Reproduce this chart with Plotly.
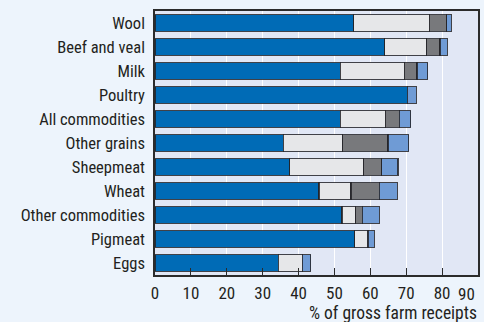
import plotly.graph_objects as go

# Commodities, top to bottom
commodities = ["Wool", "Beef and veal", "Milk", "Poultry", "All commodities",
               "Other grains", "Sheepmeat", "Wheat", "Other commodities",
               "Pigmeat", "Eggs"]

# Stacked components (% of gross farm receipts)
seg1 = [55.4, 64.0, 51.6, 70.3, 51.6, 35.7, 37.5, 45.7, 52.1, 55.6, 34.3]
seg2 = [21.0, 11.7, 17.9, 0.0, 12.6, 16.6, 20.6, 8.9, 3.8, 3.6, 6.7]
seg3 = [4.9, 3.7, 3.5, 0.0, 3.9, 12.6, 5.1, 7.9, 1.9, 0.2, 0.0]
seg4 = [1.3, 2.1, 3.0, 2.5, 3.1, 5.8, 4.5, 5.0, 4.7, 1.7, 2.4]

x_ticks = [0, 10, 20, 30, 40, 50, 60, 70, 80, 90]

colors = ["#006BB6", "#E6E7E9", "#78797C", "#6F9BD5"]
font_family = "Liberation Sans Narrow, Arial Narrow, Roboto Condensed, Liberation Sans, sans-serif"

fig = go.Figure()
for vals, col in zip([seg1, seg2, seg3, seg4], colors):
    fig.add_trace(go.Bar(
        y=commodities, x=vals, orientation="h",
        marker=dict(color=col, line=dict(color="rgba(35,35,40,0.85)", width=1.2)),
        showlegend=False,
    ))

# the last tick label sits at the right edge, so it is drawn as an annotation
# nudged inwards instead of letting the axis drop it
tick_text = [str(v) for v in x_ticks[:-1]] + [""]

fig.update_layout(
    barmode="stack",
    bargap=0.31,
    width=484, height=322,
    margin=dict(l=155, r=4, t=11, b=47),
    paper_bgcolor="#EDF4FC",
    plot_bgcolor="#E1E7F5",
    font=dict(family=font_family, size=16.5, color="#231F20"),
)
fig.update_xaxes(
    range=[0, 90], tickvals=x_ticks, ticktext=tick_text,
    showgrid=True, gridcolor="#FFFFFF", gridwidth=1.2,
    showline=True, mirror=True, linecolor="#2B2B2B", linewidth=1.5,
    ticks="inside", ticklen=7, tickcolor="#2B2B2B", tickwidth=1,
    zeroline=False, tickfont=dict(size=17), ticklabelstandoff=2,
)
fig.update_yaxes(
    categoryorder="array", categoryarray=commodities, autorange="reversed",
    showline=True, mirror=True, linecolor="#2B2B2B", linewidth=1.5,
    showgrid=False, ticks="", ticklabelstandoff=5,
)
fig.add_annotation(
    text=str(x_ticks[-1]), xref="x", yref="paper",
    x=x_ticks[-1], y=0, xanchor="right", yanchor="top",
    xshift=-2, yshift=-8, borderpad=0,
    showarrow=False, font=dict(size=17),
)
fig.add_annotation(
    text="% of gross farm receipts", xref="paper", yref="paper",
    x=1.0, y=0, xanchor="right", yanchor="top", yshift=-27, borderpad=0,
    showarrow=False, font=dict(size=17.5),
)

fig.write_html("out.html")
